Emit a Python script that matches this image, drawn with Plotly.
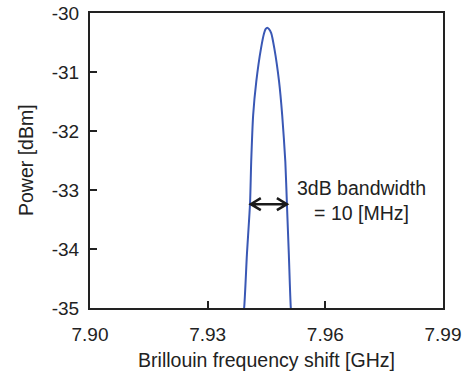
import plotly.graph_objects as go

# Data
freq_ghz = [7.9385, 7.9393, 7.9400, 7.9408, 7.9411, 7.9416, 7.9424, 7.9436, 7.9444, 7.9448,
            7.9452, 7.9456, 7.9462, 7.9470, 7.9482, 7.9490, 7.9498, 7.9502, 7.9507, 7.9512, 7.9518]
power_dbm = [-35.4, -35.0, -34.1, -33.23, -32.52, -31.73, -31.16, -30.60, -30.34, -30.27,
             -30.25, -30.27, -30.34, -30.60, -31.16, -31.73, -32.52, -33.23, -34.1, -35.0, -35.4]

x_ticks = [7.90, 7.93, 7.96, 7.99]
x_tick_labels = ["7.90", "7.93", "7.96", "7.99"]
y_ticks = [-35, -34, -33, -32, -31, -30]
y_tick_labels = ["-35", "-34", "-33", "-32", "-31", "-30"]

arrow_x = [7.9410, 7.9502]
arrow_y = -33.24
note_lines = ["3dB bandwidth", "= 10 [MHz]"]

FONT = "Liberation Sans, Arial, Helvetica, sans-serif"
TXT = 19.5
TICK = 19
W, H = 463, 372
ML, MR, MT, MB = 90, 20, 13, 64
x_range = [7.90, 7.99]
y_range = [-35, -30]

fig = go.Figure()
fig.add_trace(go.Scatter(x=freq_ghz, y=power_dbm, mode="lines",
                         line=dict(color="#3a58b5", width=2, shape="spline", smoothing=0.6),
                         showlegend=False, hoverinfo="skip"))

# double headed arrow with open chevrons
pw = W - ML - MR
ph = H - MT - MB
dx = 10 * (x_range[1] - x_range[0]) / pw
dy = 6 * (y_range[1] - y_range[0]) / ph
x0, x1 = arrow_x
path = (f"M {x0},{arrow_y} L {x1},{arrow_y} "
        f"M {x0+dx},{arrow_y+dy} L {x0},{arrow_y} L {x0+dx},{arrow_y-dy} "
        f"M {x1-dx},{arrow_y+dy} L {x1},{arrow_y} L {x1-dx},{arrow_y-dy}")
fig.add_shape(type="path", path=path, xref="x", yref="y",
              line=dict(color="#1a1a1a", width=2.5))

fig.add_annotation(x=(361 - ML) / pw, y=(H - MB - 201) / ph, xref="paper", yref="paper",
                   xanchor="center", yanchor="middle",
                   text="<br>".join(note_lines), showarrow=False,
                   font=dict(family=FONT, size=TXT, color="#222"), align="center")

fig.add_annotation(x=(26 - ML) / pw, y=(H - MB - 160) / ph, xref="paper", yref="paper",
                   xanchor="center", yanchor="middle",
                   text="Power [dBm]", textangle=-90, showarrow=False,
                   font=dict(family=FONT, size=TXT, color="#222"))

axis_common = dict(showgrid=False, zeroline=False, showline=True, linecolor="#222",
                   linewidth=2, mirror=True, ticks="inside", ticklen=7, tickwidth=1.5,
                   tickcolor="#222", automargin=False,
                   tickfont=dict(family=FONT, size=TICK, color="#222"))

fig.update_xaxes(range=x_range, tickvals=x_ticks, ticktext=x_tick_labels,
                 ticklabelstandoff=8,
                 title=dict(text="Brillouin frequency shift [GHz]",
                            font=dict(family=FONT, size=TXT, color="#222"), standoff=10),
                 **axis_common)
fig.update_yaxes(range=y_range, tickvals=y_ticks, ticktext=y_tick_labels,
                 ticklabelstandoff=5, **axis_common)

fig.update_layout(width=W, height=H, margin=dict(l=ML, r=MR, t=MT, b=MB),
                  paper_bgcolor="white", plot_bgcolor="white",
                  font=dict(family=FONT, size=TXT, color="#222"))

fig.write_html("out.html")
